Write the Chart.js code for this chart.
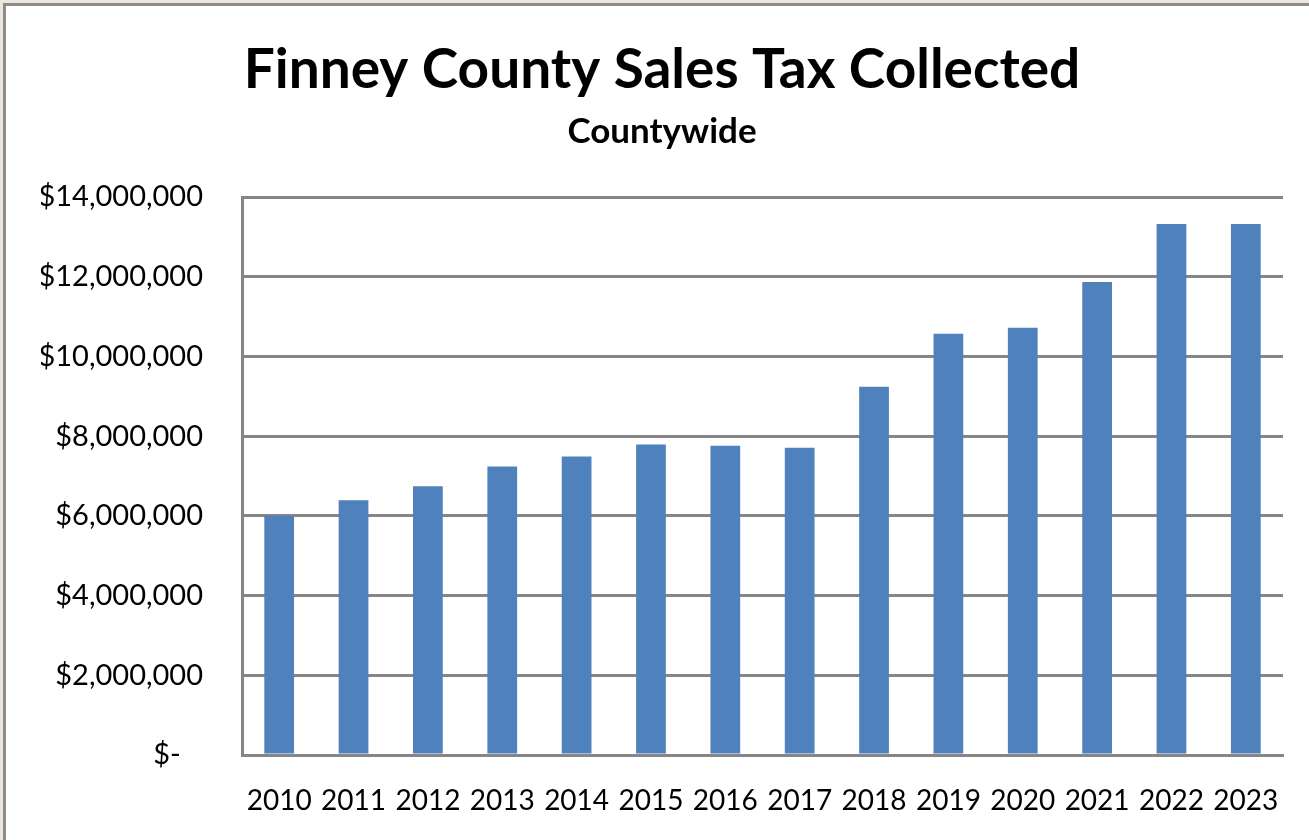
<!DOCTYPE html>
<html>
<head>
<meta charset="utf-8">
<script src="https://cdn.jsdelivr.net/npm/chart.js@4.4.1/dist/chart.umd.min.js"></script>
<style>
  html, body { margin: 0; padding: 0; background: #ece6dc; }
  #frame {
    position: absolute; left: 3px; top: 3px;
    width: 1306px; height: 837px;
    border-left: 3px solid #8c8c8c; border-top: 3px solid #8c8c8c;
    background: #ffffff;
  }
  #chart-wrap { position: absolute; left: 0; top: 0; width: 1303px; height: 834px; }
</style>
</head>
<body>
<div id="frame">
  <div id="chart-wrap"><canvas id="tax-chart"></canvas></div>
</div>
<script>
const years = ["2010", "2011", "2012", "2013", "2014", "2015", "2016",
               "2017", "2018", "2019", "2020", "2021", "2022", "2023"];
const tax_collected = [6000000, 6390000, 6740000, 7240000, 7490000, 7790000, 7760000,
                       7710000, 9240000, 10570000, 10720000, 11870000, 13320000, 13320000];
const y_ticks = [0, 2000000, 4000000, 6000000, 8000000, 10000000, 12000000, 14000000];

const font_family = "Lato, 'Open Sans', sans-serif";
const grid_color = "#868686";

function money_label(value) {
  if (value === 0) {
    return "$-   ";
  }
  return "$" + value.toLocaleString("en-US");
}

let canvas = document.querySelector("#tax-chart");
let tax_chart = new Chart(canvas, {
  type: "bar",
  data: {
    labels: years,
    datasets: [{
      label: "Sales Tax Collected",
      data: tax_collected,
      backgroundColor: "#4f81bd",
      borderWidth: 0,
      barPercentage: 0.4,
      categoryPercentage: 1.0,
    }]
  },
  options: {
    responsive: true,
    maintainAspectRatio: false,
    animation: false,
    layout: {
      padding: { left: 35, right: 26, top: 0, bottom: 0 }
    },
    plugins: {
      legend: { display: false },
      tooltip: { enabled: false },
      title: {
        display: true,
        text: "Finney County Sales Tax Collected",
        color: "#000000",
        font: { family: font_family, size: 55, weight: "bold", lineHeight: 1.2 },
        padding: { top: 31, bottom: 0 },
      },
      subtitle: {
        display: true,
        text: "Countywide",
        color: "#000000",
        font: { family: font_family, size: 35, weight: "bold", lineHeight: 1.2 },
        padding: { top: 8, bottom: 44 },
      },
    },
    scales: {
      x: {
        grid: { display: false, drawTicks: false },
        border: { display: true, color: grid_color, width: 3 },
        ticks: {
          color: "#000000",
          font: { family: font_family, size: 28 },
          padding: 29,
          maxRotation: 0,
          autoSkip: false,
        },
        afterFit: function(axis) { axis.height = 85; },
      },
      y: {
        min: 0,
        max: 14000000,
        afterBuildTicks: function(axis) {
          axis.ticks = y_ticks.map(function(v) { return { value: v }; });
        },
        grid: { color: grid_color, lineWidth: 3, drawTicks: false },
        border: { display: true, color: grid_color, width: 3 },
        ticks: {
          color: "#000000",
          font: { family: font_family, size: 29 },
          padding: 39,
          callback: function(value) { return money_label(value); },
        },
        afterFit: function(axis) { axis.width = 201; },
      },
    },
  },
});
</script>
</body>
</html>
